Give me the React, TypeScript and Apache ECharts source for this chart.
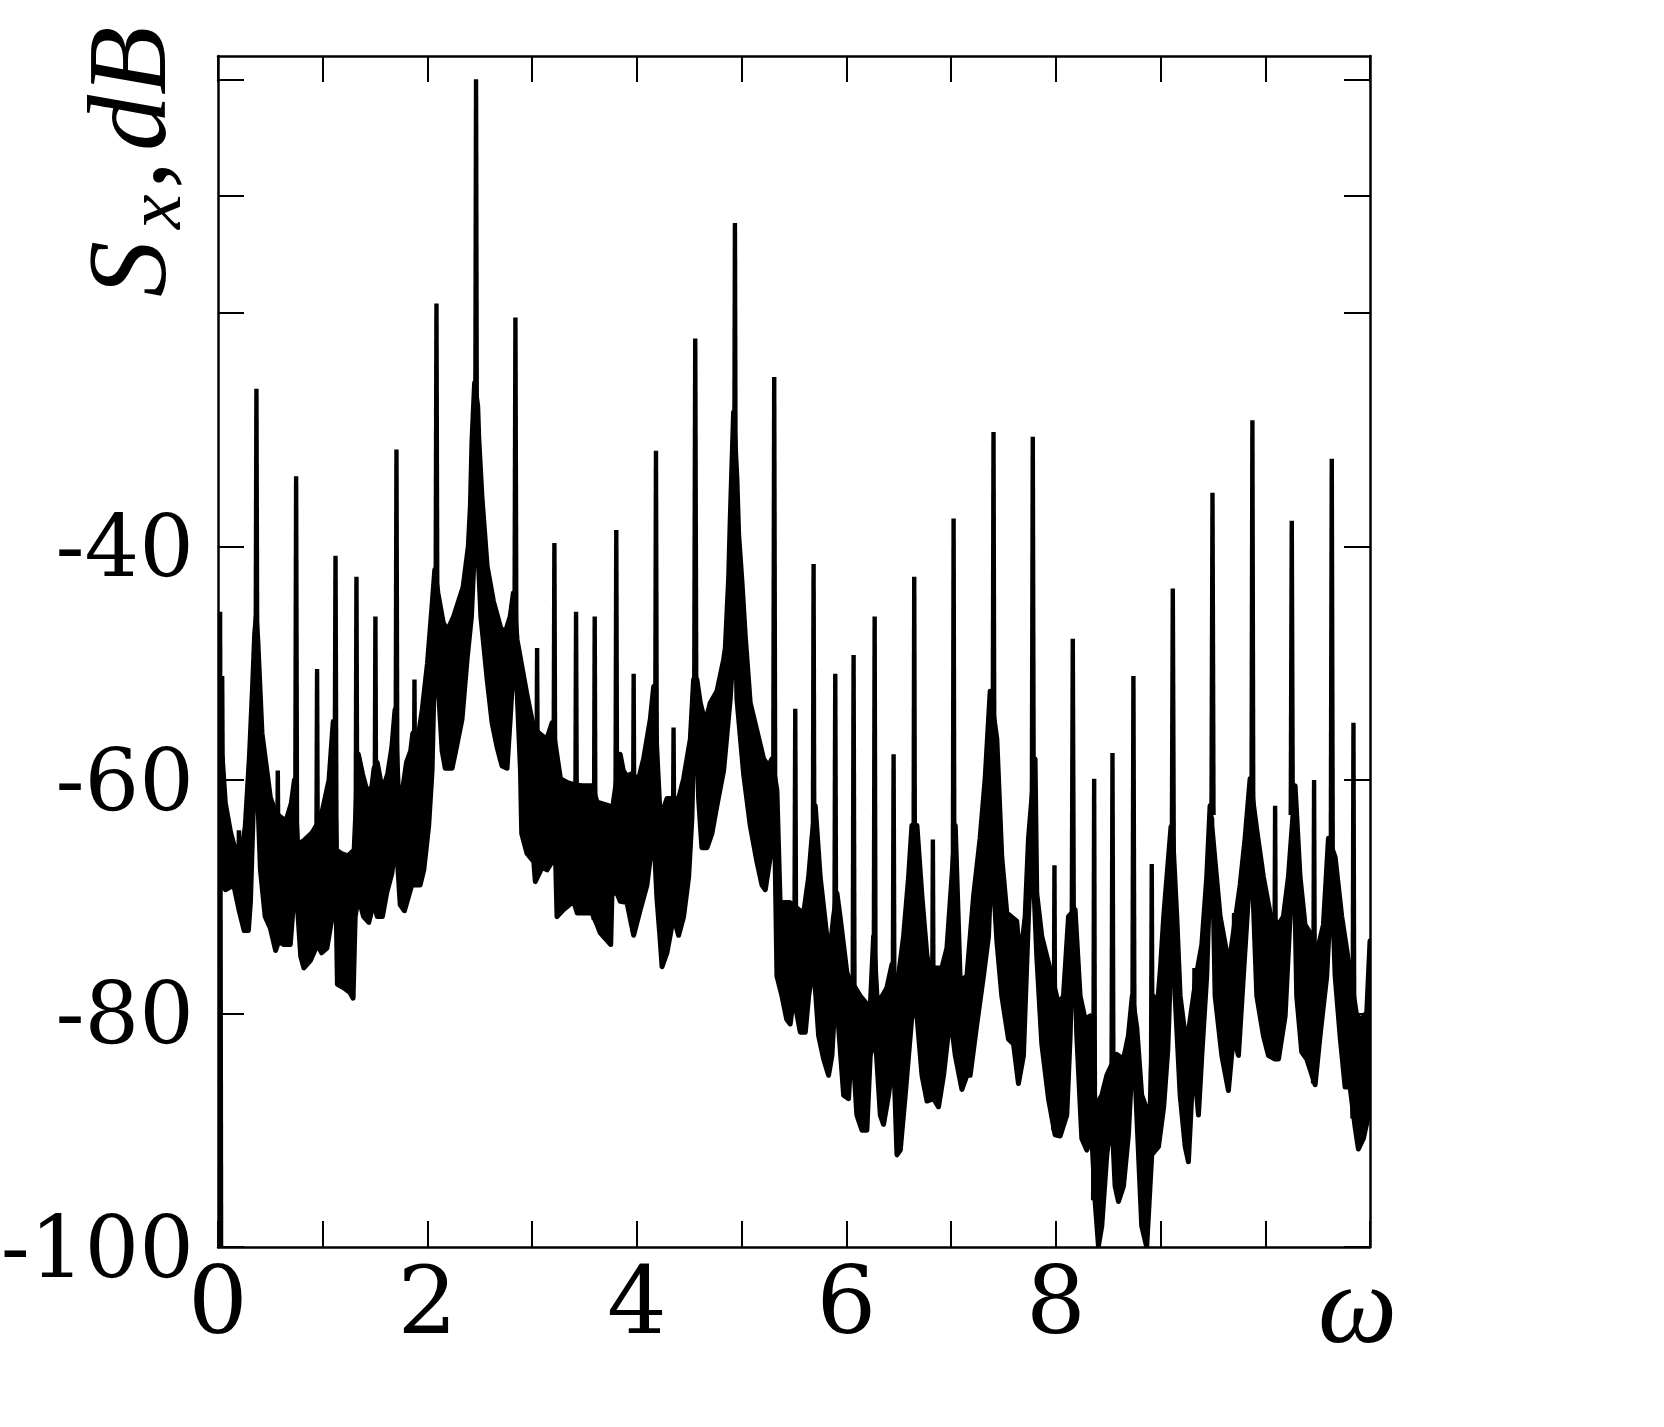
import React, { useEffect, useRef } from "react";
import * as echarts from "echarts";

// ---- axis ticks / labels ----
const xTickValues = [0, 1, 2, 3, 4, 5, 6, 7, 8, 9, 10, 11];
const xLabelValues = [0, 2, 4, 6, 8];
const yTickValues = [-100, -80, -60, -40, -20, -10, 0];
const yLabelValues = [-100, -80, -60, -40];

// ---- upper envelope of the dense spectrum band (omega, dB) ----
const upperOmega = [
  0.04, 0.07, 0.12, 0.15, 0.22, 0.26, 0.3, 0.33, 0.35, 0.365, 0.38, 0.42, 0.5, 0.55, 0.6, 0.65, 0.7, 0.73,
  0.76, 0.82, 0.9, 0.96, 1.0, 1.06, 1.1, 1.13, 1.18, 1.24, 1.3, 1.34, 1.38, 1.43, 1.47, 1.49, 1.52, 1.57,
  1.62, 1.66, 1.69, 1.72, 1.76, 1.8, 1.84, 1.86,
  1.9, 1.95, 2.0, 2.04, 2.07, 2.1, 2.15, 2.19, 2.25, 2.34, 2.39, 2.41, 2.425, 2.45, 2.48, 2.49, 2.52, 2.57,
  2.63, 2.7, 2.745, 2.79, 2.82, 2.856, 2.95, 3.015, 3.08, 3.14, 3.19, 3.27, 3.33, 3.4, 3.48, 3.57,
  3.62, 3.73, 3.76, 3.84, 3.87, 3.905, 3.94, 4.016, 4.064, 4.128, 4.16, 4.223, 4.287, 4.398, 4.446, 4.51,
  4.541, 4.573, 4.605, 4.653, 4.7, 4.764, 4.828, 4.844, 4.876, 4.891, 4.923, 4.955, 4.971, 5.003, 5.035,
  5.082, 5.146, 5.21, 5.257, 5.289, 5.337, 5.368, 5.4, 5.46,
  5.544, 5.592, 5.64, 5.671, 5.703, 5.75, 5.814, 5.846, 5.878, 5.91, 5.94, 6.005, 6.037, 6.085, 6.133,
  6.196, 6.228, 6.26, 6.292, 6.324, 6.387, 6.435, 6.483, 6.546, 6.594, 6.626, 6.674, 6.722, 6.77, 6.8,
  6.865, 6.912, 6.96, 7.008, 7.04, 7.087, 7.151,
  7.214, 7.277, 7.325, 7.373, 7.437, 7.484, 7.532, 7.627, 7.659, 7.707, 7.739, 7.802, 7.818, 7.866, 7.914,
  7.962, 8.025, 8.073, 8.121, 8.184, 8.232, 8.28, 8.33, 8.375, 8.44, 8.487, 8.58, 8.646, 8.693, 8.73,
  8.773, 8.82, 8.868, 8.9, 8.93, 8.96, 9.0, 9.03, 9.076, 9.1, 9.123, 9.155, 9.187, 9.235, 9.266, 9.346,
  9.394, 9.441, 9.473, 9.521, 9.569, 9.632, 9.664, 9.76, 9.807, 9.855, 9.919, 9.982, 10.046, 10.126,
  10.173, 10.221, 10.285, 10.332, 10.38, 10.428, 10.492, 10.555, 10.603, 10.667, 10.73, 10.794, 10.873,
  10.921, 10.969, 11.0,
];
const upperDb = [
  -58, -62, -64.5, -65.5, -66.5, -64, -58, -52, -47.5, -46, -48, -56, -61.5, -62.8, -63.2, -63.5, -62, -60,
  -65.5, -65.2, -64.5, -63.6, -62.5, -60, -55, -66, -66.3, -66.5, -66, -57.8, -59.5, -61.2, -60.5, -59, -58.5, -60.9,
  -59.5, -57.2, -54, -60.5, -61, -58.5, -57.5, -56,
  -57, -54, -50, -45.5, -42, -44, -46.5, -47.2, -46, -43.5, -40, -36.5, -31, -26, -28, -30.7, -35.7, -41.7,
  -44.7, -47, -47.3, -46, -44, -48, -52.7, -55.6, -56.1, -56.5, -55.1, -59.9, -60.2, -60.4, -60.5, -60.5,
  -61.9, -62.2, -62.9, -57.8, -59.2, -59.7, -59.5, -59.9, -58.2, -54.8, -52, -63.3, -61.6, -61.6, -59.9, -56.5,
  -51.4, -51.4, -53.4, -55.1, -53.4, -52.4, -49.7, -48.7, -42.7, -37.7, -28.5, -34.2, -38.9, -43, -47.7,
  -53.4, -55.8, -58.2, -58.8, -58.2, -60.9, -70.7, -70.5, -70.5,
  -71.1, -71.4, -68.3, -65, -62.2, -68.3, -73.4, -74.4, -71.7, -69.7, -71.7, -76.5, -77.2, -77.8, -78.5,
  -79.2, -79.5, -73.4, -78.5, -78.8, -77.8, -75.8, -77.8, -73.4, -68.3, -63.9, -63.9, -70, -75.1, -76.1,
  -76.1, -76.1, -74.4, -68.3, -63.9, -77.2, -76.8,
  -70, -65, -59.9, -52.4, -56.5, -66.6, -71.4, -72.1, -75.5, -71.7, -65, -58.2, -69.7, -73.4, -75.1,
  -76.8, -79.2, -78.5, -71.7, -71.1, -78.5, -80.5, -80.2, -88, -87, -85.3, -83.5, -83.9, -81.9, -78.5,
  -81.2, -87, -88.2, -88.4, -78.5, -80.5, -76, -71.7, -66.6, -64, -66, -71.7, -78.5, -81.9, -81.6, -76.5,
  -74.1, -68.3, -62.2, -67, -71.7, -74.8, -75.1, -69, -65, -59.9, -64.3, -68.3, -71.4, -72.4,
  -71.7, -68.3, -60.5, -68.3, -72.4, -73.1, -74.8, -72.4, -65, -66.6, -71.7, -75.5, -80.2,
  -80.5, -79.9, -73.8,
];

// ---- lower envelope of the band (omega, dB) ----
const lowerOmega = [
  0.04, 0.07, 0.15, 0.2, 0.25, 0.29, 0.31, 0.34, 0.36, 0.38, 0.405, 0.45, 0.5, 0.55, 0.58, 0.63, 0.69, 0.74,
  0.79, 0.82, 0.88, 0.95, 0.99, 1.04, 1.09, 1.12, 1.14, 1.2, 1.26, 1.29, 1.31, 1.34, 1.39, 1.44, 1.49, 1.52,
  1.57, 1.61, 1.66, 1.7, 1.74, 1.78, 1.85, 1.93, 1.965, 2.012, 2.044, 2.06, 2.09, 2.14, 2.17, 2.235, 2.27,
  2.33, 2.378, 2.42, 2.45, 2.465, 2.48, 2.51, 2.57, 2.617, 2.665, 2.712, 2.76, 2.79, 2.824, 2.856, 2.888,
  2.9, 2.951, 3.015, 3.03, 3.094, 3.142, 3.19, 3.22, 3.237, 3.3, 3.397, 3.43, 3.571, 3.62,
  3.65, 3.75, 3.762, 3.81, 3.841, 3.905, 3.969, 4.032, 4.096, 4.16, 4.19, 4.223, 4.24, 4.287, 4.35, 4.398,
  4.446, 4.494, 4.525, 4.557, 4.589, 4.62, 4.669, 4.716, 4.764, 4.828, 4.891, 4.94, 4.955, 5.019, 5.082,
  5.146, 5.194, 5.226, 5.273, 5.311, 5.337, 5.385, 5.43, 5.464,
  5.496, 5.56, 5.608, 5.64, 5.687, 5.735, 5.783, 5.83, 5.862, 5.894, 5.926, 5.974, 6.021, 6.053, 6.1,
  6.149, 6.196, 6.228, 6.276, 6.324, 6.355, 6.403, 6.451, 6.483, 6.515, 6.562, 6.626, 6.674, 6.722, 6.77,
  6.833, 6.88, 6.928, 6.992, 7.04, 7.103, 7.151,
  7.182, 7.246, 7.309, 7.357, 7.389, 7.437, 7.484, 7.548, 7.596, 7.643, 7.691, 7.739, 7.771, 7.818, 7.866,
  7.93, 7.993, 8.041, 8.105, 8.137, 8.168, 8.2, 8.248, 8.296, 8.343, 8.375, 8.407, 8.439, 8.487, 8.534,
  8.566, 8.598, 8.646, 8.693, 8.741, 8.773, 8.82, 8.868, 8.916, 8.98, 9.03, 9.07, 9.1, 9.117, 9.139, 9.187,
  9.235, 9.266, 9.298, 9.33, 9.362, 9.394, 9.441, 9.489, 9.521, 9.585, 9.648, 9.696, 9.744, 9.791, 9.839,
  9.877, 9.919, 9.982, 10.03, 10.094, 10.126, 10.19, 10.237, 10.269, 10.3, 10.348, 10.396, 10.476, 10.523,
  10.587, 10.635, 10.667, 10.714, 10.762, 10.81, 10.857, 10.889, 10.937, 10.985, 11.0,
];
const lowerDb = [
  -69, -69.4, -69, -71.1, -72.9, -72.9, -70.4, -61.6, -56.5, -61.6, -67.7, -71.7, -72.7, -74.6, -73.8, -74.1, -74.1, -68.3,
  -75.1, -76.1, -75.5, -74.1, -74.8, -74.4, -71.7, -66.3, -77.5, -77.8, -78.2, -78.7, -71.7, -70, -71.7, -72.2, -70.4, -71.7,
  -71.7, -69.7, -68, -65, -70.7, -71.2, -69, -69, -67.7, -63.9, -59.2, -53.1, -50, -57.5, -59, -59, -57.5,
  -54.8, -49.7, -46, -40, -32, -40, -46, -51.4, -55.1, -57.2, -58.8, -59, -54.8, -49.7, -52.4, -59.2,
  -64.6, -66.3, -67, -68.7, -67.5, -67.7, -67, -65.6, -71.7, -71.1, -70.4, -71.4, -71.4, -72.4,
  -73.1, -74.1, -69.7, -69.7, -70.4, -70.5, -73.3, -71.1, -69, -64.3, -70, -73.8, -76, -74.8, -71.7, -73.3,
  -71.7, -68.3, -63.3, -51.4, -61.6, -65.8, -65.8, -64.6, -62.2, -59.2, -53.1, -46, -53.1, -59.5, -63.9,
  -67, -69, -69.4, -66.6, -61.6, -76.8, -78.5, -80.5, -80.9,
  -78.5, -81.6, -81.6, -78.5, -75.8, -81.9, -83.9, -85.3, -83.6, -78.5, -81.2, -87, -87.3, -81.9, -88.7,
  -90, -90, -83.6, -81.9, -88.7, -89.5, -87, -83.6, -92.1, -91.7, -87, -80.2, -80.2, -85.3, -87.5,
  -87.3, -88, -85.3, -80.2, -83.6, -86.5, -85.3,
  -85.3, -80.9, -76.8, -73.4, -66.3, -73.8, -78.5, -82.2, -82.6, -86, -83.6, -71.7, -65, -75.1, -82.6,
  -87.3, -90.4, -90.5, -88.7, -81.9, -71.7, -81.9, -90.7, -91.7, -90.4, -96.1, -99.9, -98.2, -92.1, -88.7,
  -94.8, -96.1, -94.8, -90.4, -81.9, -88.7, -98.2, -100, -92.1, -91.4, -88, -83, -75, -66.6, -78.5, -87,
  -91.4, -92.7, -87, -85.3, -88.7, -83.6, -76.8, -63.3, -78.5, -83.6, -86.6, -81.9, -83.6, -76.8, -70,
  -68.3, -78.5, -81.9, -83.6, -83.9, -83.9, -80.2, -71.7, -63.3, -78.5, -83.3, -83.9, -86.1, -81.9,
  -76.8, -68.3, -76.8, -81.9, -86.3, -86.3, -89.7, -91.6, -90.7, -88.7, -73.8,
];

// ---- narrow spectral lines: position, peak level, level where they leave the band ----
const spikeOmega = [
  0.02, 0.04, 0.2, 0.367, 0.571, 0.746, 0.946, 1.122, 1.322, 1.503, 1.704, 1.876, 2.086, 2.464, 2.84,
  3.047, 3.212, 3.419, 3.597, 3.803, 3.969, 4.182, 4.35, 4.557, 4.936, 5.311, 5.512, 5.687, 5.894, 6.069,
  6.27, 6.451, 6.648, 6.826, 7.024, 7.405, 7.78, 7.987, 8.162, 8.366, 8.541, 8.741, 8.916, 9.117, 9.324,
  9.496, 9.702, 9.728, 9.877, 10.094, 10.253, 10.466, 10.635, 10.842,
];
const spikeTopDb = [
  -45.6, -51.1, -64.3, -26.5, -59.2, -34.0, -50.5, -40.8, -42.6, -46.0, -31.7, -51.4, -19.2, 0.0, -20.4,
  -48.7, -39.7, -45.6, -46.0, -38.6, -50.9, -31.8, -55.5, -22.2, -12.3, -25.5, -53.9, -41.5, -50.9, -49.3,
  -46.0, -57.8, -42.6, -65.1, -37.6, -30.2, -30.6, -67.3, -47.9, -59.9, -57.7, -51.1, -67.2, -43.6, -76.1,
  -35.4, -71.4, -71.4, -29.2, -62.2, -37.8, -60.0, -32.5, -55.1,
];
const spikeBaseDb = [
  -100, -69, -70, -56, -72, -68, -74, -66, -71, -70, -65, -69, -50, -40, -50,
  -68, -65, -70, -72, -69, -73, -65, -71, -52, -47, -62, -78, -76, -78, -82,
  -82, -84, -80, -87, -80, -66, -65, -90, -72, -96, -88, -82, -92, -67, -85,
  -63, -82, -83, -68, -84, -63, -86, -68, -89,
];

const TICK_FONT = "DejaVu Serif";

export default function App() {
  const ref = useRef<HTMLDivElement>(null);

  useEffect(() => {
    if (!ref.current) return;
    const chart = echarts.init(ref.current, null, { renderer: "svg" });

    const axisLine = { show: true, onZero: false, lineStyle: { color: "#000", width: 2.5 } };
    const tickStyle = { color: "#000", width: 2 };

    const bandSeries = {
      type: "custom",
      coordinateSystem: "cartesian2d",
      xAxisIndex: 0,
      yAxisIndex: 0,
      clip: true,
      silent: true,
      data: [[0, 0]],
      encode: { x: 0, y: 1 },
      renderItem: (_params: any, api: any) => {
        const pts: number[][] = [];
        for (let i = 0; i < upperOmega.length; i++) pts.push(api.coord([upperOmega[i], upperDb[i]]));
        for (let i = lowerOmega.length - 1; i >= 0; i--) pts.push(api.coord([lowerOmega[i], lowerDb[i]]));
        return {
          type: "polygon",
          shape: { points: pts },
          style: { fill: "#000", stroke: "#000", lineWidth: 5, lineJoin: "round" },
        };
      },
    };

    const spikeSeries = {
      type: "custom",
      coordinateSystem: "cartesian2d",
      xAxisIndex: 0,
      yAxisIndex: 0,
      clip: true,
      silent: true,
      data: spikeOmega.map((w, i) => [w, spikeTopDb[i], spikeBaseDb[i]]),
      encode: { x: 0, y: [1, 2] },
      renderItem: (_params: any, api: any) => {
        const w = api.value(0);
        const pt = api.coord([w, api.value(1)]);
        const pb = api.coord([w, api.value(2)]);
        return {
          type: "polygon",
          shape: {
            points: [
              [pt[0] - 2.2, pt[1]],
              [pt[0] + 2.2, pt[1]],
              [pb[0] + 3.2, pb[1]],
              [pb[0] - 3.2, pb[1]],
            ],
          },
          style: { fill: "#000" },
        };
      },
    };

    const option: any = {
      animation: false,
      backgroundColor: "#ffffff",
      grid: { left: 218, top: 56, width: 1152, height: 1191, outerBoundsMode: "none" },
      xAxis: [
        {
          type: "value",
          position: "bottom",
          min: 0,
          max: 11,
          interval: 1,
          axisLine,
          axisTick: { show: true, inside: true, length: 26, lineStyle: tickStyle, customValues: xTickValues },
          axisLabel: {
            show: true,
            customValues: xLabelValues,
            color: "#000",
            fontFamily: TICK_FONT,
            fontSize: 94,
            margin: 6,
            formatter: (v: number) => (xLabelValues.indexOf(v) >= 0 ? String(v) : ""),
          },
          splitLine: { show: false },
        },
        {
          type: "value",
          position: "top",
          min: 0,
          max: 11,
          interval: 1,
          axisLine,
          axisTick: { show: true, inside: true, length: 26, lineStyle: tickStyle, customValues: xTickValues },
          axisLabel: { show: false },
          splitLine: { show: false },
        },
      ],
      yAxis: [
        {
          type: "value",
          position: "left",
          min: -100,
          max: 2,
          interval: 10,
          axisLine,
          axisTick: { show: true, inside: true, length: 26, lineStyle: tickStyle, customValues: yTickValues },
          axisLabel: {
            show: true,
            customValues: yLabelValues,
            color: "#000",
            fontFamily: TICK_FONT,
            fontSize: 86,
            margin: 24,
            formatter: (v: number) => (yLabelValues.indexOf(v) >= 0 ? String(v) : ""),
          },
          splitLine: { show: false },
        },
        {
          type: "value",
          position: "right",
          min: -100,
          max: 2,
          interval: 10,
          axisLine,
          axisTick: { show: true, inside: true, length: 26, lineStyle: tickStyle, customValues: yTickValues },
          axisLabel: { show: false },
          splitLine: { show: false },
        },
      ],
      graphic: [
        {
          type: "text",
          left: 1318,
          top: 1248,
          style: {
            text: "ω",
            fill: "#000",
            font: "italic 112px 'Liberation Serif'",
          },
        },
        {
          type: "group",
          x: 127,
          y: 297,
          rotation: Math.PI / 2,
          children: [
            {
              type: "text",
              x: 0,
              y: 0,
              style: {
                text: "S",
                fill: "#000",
                font: "italic 112px 'Liberation Serif'",
                verticalAlign: "middle",
                align: "left",
              },
            },
            {
              type: "text",
              x: 68,
              y: 26,
              style: {
                text: "x",
                fill: "#000",
                font: "italic 78px 'Liberation Serif'",
                verticalAlign: "middle",
                align: "left",
              },
            },
            {
              type: "text",
              x: 108,
              y: 0,
              style: {
                text: ",",
                fill: "#000",
                font: "112px 'Liberation Serif'",
                verticalAlign: "middle",
                align: "left",
              },
            },
            {
              type: "text",
              x: 146,
              y: 0,
              style: {
                text: "dB",
                fill: "#000",
                font: "italic 112px 'Liberation Serif'",
                verticalAlign: "middle",
                align: "left",
              },
            },
          ],
        },
      ],
      series: [bandSeries, spikeSeries],
    };

    chart.setOption(option);
    return () => chart.dispose();
  }, []);

  return (
    <div
      ref={ref}
      style={{ position: "absolute", left: 0, top: 0, width: 1664, height: 1427, background: "#fff" }}
    />
  );
}
